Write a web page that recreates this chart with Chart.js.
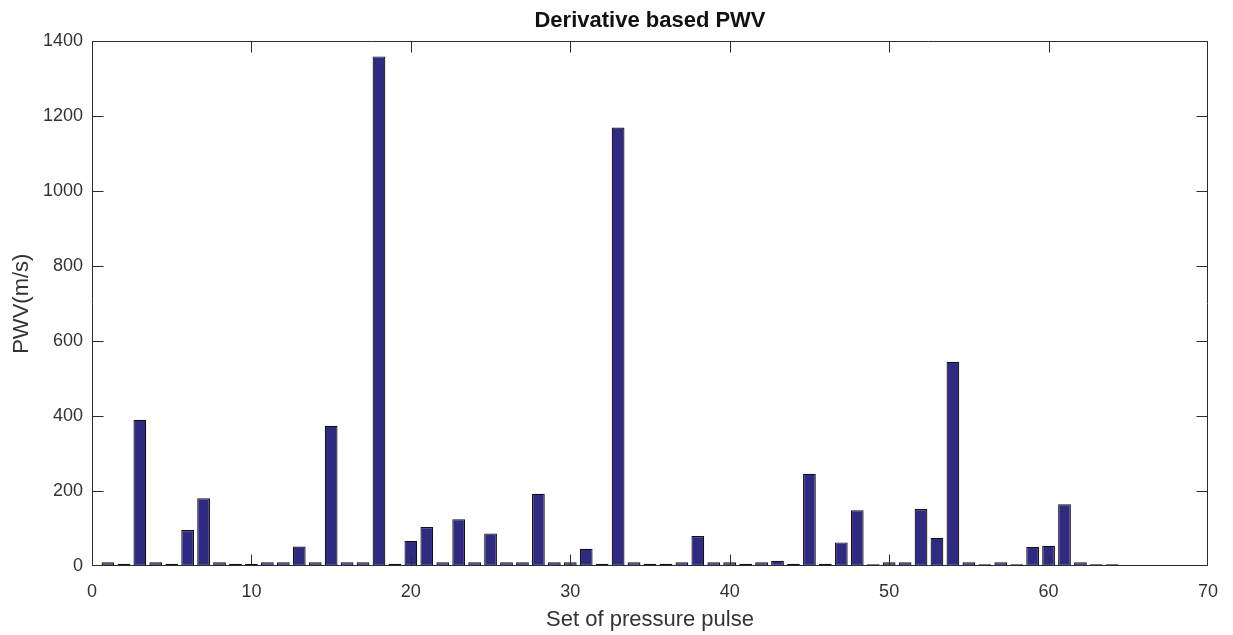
<!DOCTYPE html>
<html>
<head>
<meta charset="utf-8">
<title>Derivative based PWV</title>
<script src="https://cdn.jsdelivr.net/npm/chart.js@4/dist/chart.umd.min.js"></script>
<style>
  html, body { margin: 0; padding: 0; background: #fff; }
  #wrap { width: 1233px; height: 635px; }
</style>
</head>
<body>
<div id="wrap"><canvas id="c" width="1233" height="635"></canvas></div>
<script>
// Pulse index for each measured set of pressure pulses
const pulseSet = [
  1, 2, 3, 4, 5, 6, 7, 8, 9, 10,
  11, 12, 13, 14, 15, 16, 17, 18, 19, 20,
  21, 22, 23, 24, 25, 26, 27, 28, 29, 30,
  31, 32, 33, 34, 35, 36, 37, 38, 39, 40,
  41, 42, 43, 44, 45, 46, 47, 48, 49, 50,
  51, 52, 53, 54, 55, 56, 57, 58, 59, 60,
  61, 62, 63, 64
];

// Pulse wave velocity (m/s) from the derivative-based foot detection
const pwvValues = [
  10, 6, 390, 10, 6, 96, 181, 10, 6, 6,
  10, 10, 52, 10, 374, 10, 10, 1360, 6, 67,
  104, 10, 125, 10, 87, 10, 10, 193, 10, 10,
  46, 6, 1170, 10, 6, 6, 10, 80, 10, 10,
  6, 10, 14, 6, 246, 6, 63, 149, 5, 10,
  10, 152, 75, 545, 10, 5, 10, 5, 51, 54,
  165, 10, 5, 5
];

// Axis ranges and tick spacing
const xRange = [0, 70];
const xStep = 10;
const yRange = [0, 1400];
const yStep = 200;

const FONT = '"Liberation Sans", Arial, Helvetica, sans-serif';
const AXIS_COLOR = '#2b2b2b';
const TEXT_COLOR = '#333333';

// Boxed axes with inward tick marks on all four sides
const boxAxes = {
  id: 'boxAxes',
  afterDatasetsDraw(chart) {
    const { ctx, chartArea: a, scales } = chart;
    const len = 11;
    ctx.save();
    ctx.strokeStyle = AXIS_COLOR;
    ctx.lineWidth = 1;
    ctx.beginPath();
    const L = Math.round(a.left) + 0.5, R = Math.round(a.right) - 0.5;
    const T = Math.round(a.top) + 0.5, B = Math.round(a.bottom) - 0.5;
    const clamp = (v, lo, hi) => Math.min(Math.max(v, lo), hi);
    ctx.rect(L, T, R - L, B - T);
    scales.x.ticks.forEach(t => {
      const px = clamp(Math.round(scales.x.getPixelForValue(t.value)) + 0.5, L, R);
      ctx.moveTo(px, B); ctx.lineTo(px, B - len);
      ctx.moveTo(px, T); ctx.lineTo(px, T + len);
    });
    scales.y.ticks.forEach(t => {
      const py = clamp(Math.round(scales.y.getPixelForValue(t.value)) + 0.5, T, B);
      ctx.moveTo(L, py); ctx.lineTo(L + len, py);
      ctx.moveTo(R, py); ctx.lineTo(R - len, py);
    });
    ctx.stroke();
    ctx.restore();
  }
};

new Chart(document.getElementById('c'), {
  type: 'bar',
  data: {
    datasets: [{
      data: pulseSet.map((x, i) => ({ x: x, y: pwvValues[i] })),
      backgroundColor: '#2f2b82',
      borderColor: '#111111',
      borderWidth: 1.2,
      borderSkipped: false,
      barPercentage: 0.8,
      categoryPercentage: 1.0
    }]
  },
  options: {
    responsive: false,
    animation: false,
    layout: { padding: { left: 0, right: 21, top: 0, bottom: 0 } },
    plugins: {
      legend: { display: false },
      tooltip: { enabled: false },
      title: {
        display: true,
        text: 'Derivative based PWV',
        color: '#111111',
        fullSize: false,
        font: { family: FONT, size: 22, weight: 'bold' },
        padding: { top: 8, bottom: 7 }
      }
    },
    scales: {
      x: {
        type: 'linear',
        min: xRange[0],
        max: xRange[1],
        offset: false,
        grid: { display: false, drawTicks: false },
        border: { display: false },
        ticks: {
          stepSize: xStep,
          padding: 15,
          color: TEXT_COLOR,
          maxRotation: 0,
          font: { family: FONT, size: 18 },
          callback: v => String(v)
        },
        title: {
          display: true,
          text: 'Set of pressure pulse',
          color: TEXT_COLOR,
          font: { family: FONT, size: 22 },
          padding: { top: 0, bottom: 2 }
        },
        afterFit(scale) { scale.height = 69; }
      },
      y: {
        min: yRange[0],
        max: yRange[1],
        grid: { display: false, drawTicks: false },
        border: { display: false },
        ticks: {
          stepSize: yStep,
          padding: 9,
          color: TEXT_COLOR,
          font: { family: FONT, size: 18 },
          callback: v => String(v)
        },
        title: {
          display: true,
          text: 'PWV(m/s)',
          color: TEXT_COLOR,
          font: { family: FONT, size: 22 },
          padding: { top: 9, bottom: 0 }
        },
        afterFit(scale) { scale.width = 92; }
      }
    }
  },
  plugins: [boxAxes]
});
</script>
</body>
</html>
